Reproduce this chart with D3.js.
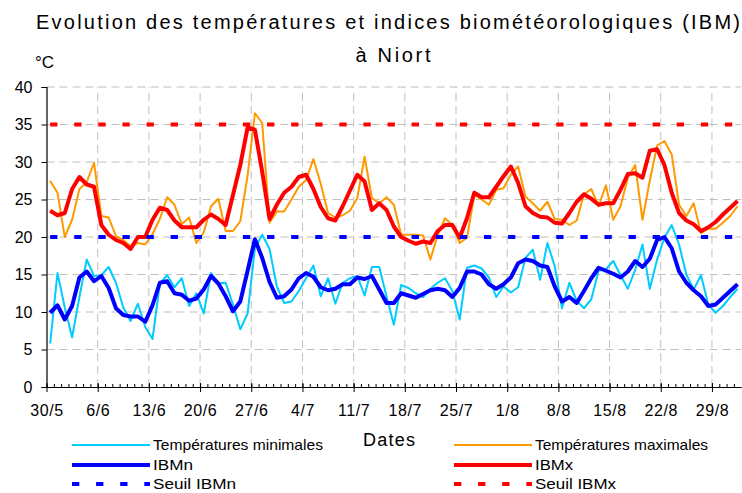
<!DOCTYPE html>
<html><head><meta charset="utf-8">
<script src="https://cdn.jsdelivr.net/npm/d3@7"></script>
<style>
body{margin:0;background:#fff}
svg{display:block}
text{font-family:"Liberation Sans",Arial,sans-serif;fill:#000}
</style>
</head><body>
<svg id="chart" width="742" height="493"></svg>
<script>
// ---------------- DATA ----------------
const startDay = "2019-05-30";
const tickLabels = ["30/5","6/6","13/6","20/6","27/6","4/7","11/7","18/7","25/7","1/8","8/8","15/8","22/8","29/8"];
const yTicks = [0,5,10,15,20,25,30,35,40];

const tmin = [5.8,15.2,10.6,6.6,12.0,17.0,14.8,14.9,16.0,13.9,10.6,8.8,11.1,8.0,6.4,13.8,14.9,13.3,14.5,10.8,
  12.5,9.8,15.2,13.8,13.9,11.0,7.7,9.8,18.5,20.3,18.4,13.4,11.2,11.4,12.8,14.5,16.2,12.1,14.5,11.1,
  13.9,14.5,14.8,12.2,16.0,16.0,12.1,8.3,13.6,13.2,12.5,12.0,13.1,13.9,14.5,12.8,9.0,15.9,16.2,15.8,
  14.6,12.0,13.4,12.6,13.3,17.2,18.3,14.3,19.2,16.1,10.5,13.9,11.5,10.5,11.7,15.5,15.7,16.8,14.9,13.1,
  15.6,19.0,13.1,17.0,19.9,21.6,19.0,15.0,13.0,14.9,11.0,9.9,10.8,12.0,13.1];
const tmax = [27.5,25.9,20.0,22.3,26.4,27.3,29.9,22.8,22.6,20.1,19.6,18.8,19.2,19.0,20.4,22.4,25.3,24.3,21.7,22.6,
  19.2,20.6,24.1,25.1,20.8,20.8,22.1,28.2,36.5,35.2,21.9,23.4,23.4,25.0,26.7,27.6,30.4,27.1,23.2,22.6,
  22.9,23.5,25.2,30.7,25.2,24.5,25.3,24.3,20.3,20.3,20.3,20.2,17.0,20.3,22.5,21.6,19.2,19.9,25.6,25.0,
  24.3,26.3,26.5,28.3,29.4,25.4,24.5,23.5,24.7,22.4,22.3,21.6,22.2,25.7,26.4,24.1,26.9,22.3,24.1,27.9,
  29.6,22.3,27.5,32.2,32.8,31.0,24.3,22.8,24.5,20.5,21.1,21.1,21.9,22.8,24.1];
const ibmn = [9.9,10.9,9.0,10.8,14.6,15.4,14.1,14.8,13.2,10.5,9.6,9.4,9.4,8.7,10.9,13.9,14.1,12.5,12.3,11.5,
  11.8,13.0,14.8,13.8,12.1,10.1,11.4,15.5,19.7,17.2,14.0,11.9,12.1,13.0,14.5,15.2,14.7,13.3,12.9,13.1,
  13.7,13.7,14.6,14.4,14.8,13.0,11.2,11.2,12.5,12.2,11.9,12.4,12.9,13.1,12.9,12.0,13.2,15.4,15.4,15.0,
  13.7,13.1,13.7,14.6,16.5,17.0,16.8,16.2,16.0,13.4,11.4,12.0,11.2,12.8,14.5,15.9,15.5,15.1,14.6,15.4,
  16.8,16.0,17.1,19.6,20.0,18.5,15.4,13.9,12.9,12.1,10.8,11.0,11.9,12.8,13.7];
const ibmx = [23.5,22.9,23.2,26.4,28.0,27.0,26.7,21.6,20.3,19.6,19.2,18.4,20.0,20.0,22.3,23.9,23.6,22.2,21.3,21.3,
  21.3,22.3,23.0,22.4,21.6,25.6,29.6,34.6,34.3,28.7,22.4,24.3,25.9,26.7,28.0,28.3,26.4,24.0,22.5,22.2,
  24.1,26.2,28.3,27.4,23.6,24.5,23.6,21.4,20.0,19.5,19.1,19.4,19.2,20.8,21.6,21.6,19.9,22.5,25.9,25.3,
  25.3,26.7,28.1,29.4,27.2,24.1,23.2,22.7,22.6,21.9,21.8,23.2,24.7,25.7,25.1,24.3,24.5,24.5,26.3,28.4,
  28.5,27.9,31.5,31.7,29.6,25.9,23.2,22.2,21.7,20.8,21.3,22.0,23.0,23.9,24.8];
const seuilIBMn = 20;
const seuilIBMx = 35;

const seriesNames = ["Températures minimales","Températures maximales","IBMn","IBMx","Seuil IBMn","Seuil IBMx"];
const colors = {tmin:"#00CCFF", tmax:"#FF9900", ibmn:"#0000FF", ibmx:"#FF0000"};

// ---------------- SCALES ----------------
const svg = d3.select("#chart");
const start = new Date(startDay + "T00:00:00Z");
const nDays = tmin.length;
const dates = d3.range(nDays).map(i => d3.utcDay.offset(start, i));
const end = d3.utcDay.offset(start, nDays);

const x = d3.scaleUtc().domain([start, end]).range([46.5, 741.2]);
const y = d3.scaleLinear().domain([0, 40]).range([387, 87]);
const xc = d => x(d3.utcHour.offset(d, 12));
const majorDates = tickLabels.map((_, i) => d3.utcDay.offset(start, i * 7));

// ---------------- GRID ----------------
const grid = svg.append("g");
grid.selectAll("line.h").data(yTicks.filter(v => v > 0)).join("line")
  .attr("x1", x.range()[0]).attr("x2", x.range()[1])
  .attr("y1", d => y(d)).attr("y2", d => y(d))
  .attr("stroke", "#BFBFBF").attr("stroke-width", 1).attr("stroke-dasharray", "8,5");
grid.selectAll("line.v").data(majorDates.slice(1)).join("line")
  .attr("x1", d => x(d)).attr("x2", d => x(d))
  .attr("y1", y(0)).attr("y2", y(40))
  .attr("stroke", "#BFBFBF").attr("stroke-width", 1).attr("stroke-dasharray", "8,5");

// ---------------- SERIES ----------------
const line = d3.line().x((d, i) => xc(dates[i])).y(d => y(d));
function drawSeries(values, color, width) {
  svg.append("path").datum(values)
    .attr("d", line).attr("fill", "none")
    .attr("stroke", color).attr("stroke-width", width)
    .attr("stroke-linejoin", "round");
}
drawSeries(tmin, colors.tmin, 2);
drawSeries(tmax, colors.tmax, 2);
drawSeries(ibmn, colors.ibmn, 4);
drawSeries(ibmx, colors.ibmx, 4);

function drawThreshold(v, color) {
  svg.append("line")
    .attr("x1", xc(dates[0])).attr("x2", xc(dates[nDays - 1]))
    .attr("y1", y(v)).attr("y2", y(v))
    .attr("stroke", color).attr("stroke-width", 4)
    .attr("stroke-dasharray", "7.3,16.8");
}
drawThreshold(seuilIBMn, colors.ibmn);
drawThreshold(seuilIBMx, colors.ibmx);

// ---------------- AXES ----------------
const yAxis = d3.axisLeft(y).tickValues(yTicks).tickSize(5).tickPadding(9).tickFormat(d3.format("d"));
const gy = svg.append("g").attr("transform", `translate(${x.range()[0]},0)`).call(yAxis);
gy.select(".domain").attr("stroke", "#000").attr("stroke-width", 1.2);
gy.selectAll("text").attr("font-size", 16).attr("font-family", "Liberation Sans, Arial, sans-serif");

const minorAxis = d3.axisBottom(x).tickValues(d3.utcDay.range(start, end)).tickSizeInner(-3).tickSizeOuter(0).tickFormat("");
const gxm = svg.append("g").attr("transform", `translate(0,${y(0)})`).call(minorAxis);
gxm.select(".domain").remove();

const majorUp = d3.axisBottom(x).tickValues(majorDates).tickSizeInner(-4).tickSizeOuter(0).tickFormat("");
const gxu = svg.append("g").attr("transform", `translate(0,${y(0)})`).call(majorUp);
gxu.select(".domain").remove();

const xAxis = d3.axisBottom(x).tickValues(majorDates).tickSizeInner(5).tickSizeOuter(0).tickPadding(13)
  .tickFormat((d, i) => tickLabels[i]);
const gx = svg.append("g").attr("transform", `translate(0,${y(0)})`).call(xAxis);
gx.select(".domain").attr("stroke", "#000").attr("stroke-width", 1.2);
gx.selectAll("text").attr("font-size", 16).attr("letter-spacing", "0.6px")
  .attr("font-family", "Liberation Sans, Arial, sans-serif");
svg.selectAll(".tick line").attr("stroke", "#000");

// ---------------- TEXT ----------------
svg.append("text").attr("x", 388).attr("y", 22).attr("dy", "0.35em").attr("text-anchor", "middle")
  .attr("font-size", 20).attr("textLength", 704).attr("lengthAdjust", "spacing")
  .text("Evolution des températures et indices biométéorologiques (IBM)");
svg.append("text").attr("x", 393).attr("y", 55).attr("dy", "0.35em").attr("text-anchor", "middle")
  .attr("font-size", 20).attr("textLength", 75).attr("lengthAdjust", "spacing")
  .text("à Niort");
svg.append("text").attr("x", 35).attr("y", 62).attr("dy", "0.35em")
  .attr("font-size", 17).text("°C");
svg.append("text").attr("x", 389).attr("y", 440).attr("dy", "0.35em").attr("text-anchor", "middle")
  .attr("font-size", 18).attr("textLength", 52).attr("lengthAdjust", "spacing").text("Dates");

// ---------------- LEGEND ----------------
const legend = [
  {name: seriesNames[0], color: colors.tmin, w: 2, dash: null, x: 72, y: 445, tl: 170},
  {name: seriesNames[1], color: colors.tmax, w: 2, dash: null, x: 454, y: 445, tl: 173},
  {name: seriesNames[2], color: colors.ibmn, w: 4, dash: null, x: 72, y: 465, tl: 40},
  {name: seriesNames[3], color: colors.ibmx, w: 4, dash: null, x: 454, y: 465, tl: 38},
  {name: seriesNames[4], color: colors.ibmn, w: 4, dash: "7.3,16.8", x: 72, y: 484, tl: 83},
  {name: seriesNames[5], color: colors.ibmx, w: 4, dash: "7.3,16.8", x: 454, y: 484, tl: 81}
];
const lg = svg.append("g").selectAll("g").data(legend).join("g");
lg.append("line").attr("x1", d => d.x).attr("x2", d => d.x + 78)
  .attr("y1", d => d.y).attr("y2", d => d.y)
  .attr("stroke", d => d.color).attr("stroke-width", d => d.w)
  .attr("stroke-dasharray", d => d.dash);
lg.append("text").attr("x", d => d.x + 81).attr("y", d => d.y).attr("dy", "0.35em")
  .attr("font-size", 15).attr("textLength", d => d.tl).attr("lengthAdjust", "spacingAndGlyphs")
  .text(d => d.name);
</script>
</body></html>
